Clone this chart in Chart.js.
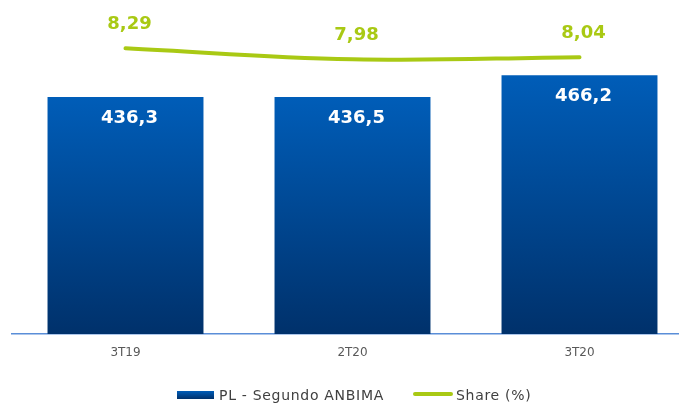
<!DOCTYPE html>
<html>
<head>
<meta charset="utf-8">
<script src="https://cdn.jsdelivr.net/npm/chart.js@4.4.1/dist/chart.umd.min.js"></script>
<style>
  html, body { margin: 0; padding: 0; background: #fff; overflow: hidden; }
  #wrap { position: relative; width: 700px; height: 403px; }
  #legend { position: absolute; left: 0; top: 0; width: 700px; height: 403px; pointer-events: none;
            font-family: "DejaVu Sans", Verdana, sans-serif; font-size: 14px; letter-spacing: 0.7px;
            color: #404040; white-space: nowrap; }
  #legend span { position: absolute; }
  #legend .box { left: 177px; top: 391px; width: 37px; height: 8px;
                 background: linear-gradient(#005DB8, #00316B); }
  #legend .ln { left: 413px; top: 392px; width: 40px; height: 4px; border-radius: 2px; background: #A9C914; }
  #legend .t1 { left: 219px; top: 386px; line-height: 18px; }
  #legend .t2 { left: 456px; top: 386px; line-height: 18px; }
</style>
</head>
<body>
<div id="wrap">
  <canvas id="chart" width="700" height="403"></canvas>
  <div id="legend"></div>
</div>
<script>
// periods and values
const periods = ['3T19', '2T20', '3T20'];
const plValues = [436.3, 436.5, 466.2];
const shareValues = [8.29, 7.98, 8.04];

const barLabel = 'PL - Segundo ANBIMA';
const lineLabel = 'Share (%)';

const FONT = '"DejaVu Sans", Verdana, sans-serif';
const GREEN = '#A9C914';

function fmt(v, d) {
    return v.toFixed(d).replace('.', ',');
}

// per-bar vertical gradient, top of bar to axis
function barGradient(context) {
    const chart = context.chart;
    const { ctx, chartArea, scales } = chart;
    if (!chartArea) return '#00458F';
    const top = scales.y.getPixelForValue(plValues[context.dataIndex]);
    const g = ctx.createLinearGradient(0, top, 0, chartArea.bottom);
    g.addColorStop(0, '#005DB8');
    g.addColorStop(1, '#00316B');
    return g;
}

const valueLabels = {
    id: 'valueLabels',
    afterDatasetsDraw(chart) {
        const ctx = chart.ctx;
        ctx.save();
        ctx.textAlign = 'center';
        ctx.textBaseline = 'middle';
        ctx.font = 'bold 18px ' + FONT;
        // dataset 1 = bars, dataset 0 = share line
        chart.getDatasetMeta(1).data.forEach((bar, i) => {
            ctx.fillStyle = '#FFFFFF';
            ctx.fillText(fmt(plValues[i], 1), bar.x + 4, bar.y + 21);
        });
        chart.getDatasetMeta(0).data.forEach((pt, i) => {
            ctx.fillStyle = GREEN;
            ctx.fillText(fmt(shareValues[i], 2), pt.x + 4, pt.y - 24);
        });
        ctx.restore();
    }
};

new Chart(document.getElementById('chart'), {
    data: {
        labels: periods,
        datasets: [
            {
                type: 'line',
                label: lineLabel,
                data: shareValues,
                yAxisID: 'y2',
                borderColor: GREEN,
                borderWidth: 4,
                borderCapStyle: 'round',
                tension: 0.4,
                pointRadius: 0,
                order: 0
            },
            {
                type: 'bar',
                label: barLabel,
                data: plValues,
                yAxisID: 'y',
                backgroundColor: barGradient,
                barPercentage: 0.687,
                categoryPercentage: 1,
                order: 1
            }
        ]
    },
    options: {
        responsive: false,
        animation: false,
        layout: { padding: { left: 12, right: 7, top: 0, bottom: 0 } },
        plugins: {
            legend: { display: false },
            tooltip: { enabled: false }
        },
        scales: {
            x: {
                offset: true,
                grid: { display: false, drawTicks: false },
                border: { display: true, color: '#5A8ED8', width: 1.5 },
                ticks: { color: '#595959', font: { family: FONT, size: 12 }, padding: 12 },
                afterFit(scale) { scale.height = 69; }
            },
            y: {
                display: false,
                min: 110,
                max: 570
            },
            y2: {
                display: false,
                min: 0.24,
                max: 9.65
            }
        }
    },
    plugins: [valueLabels]
});

// legend
document.getElementById('legend').innerHTML =
    '<span class="box"></span><span class="t1">' + barLabel + '</span>' +
    '<span class="ln"></span><span class="t2">' + lineLabel + '</span>';
</script>
</body>
</html>
